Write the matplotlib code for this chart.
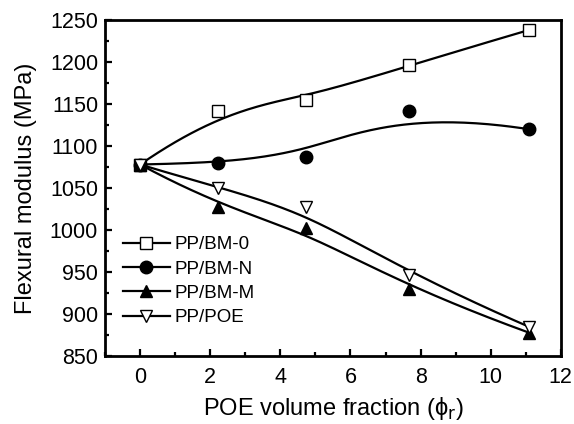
import matplotlib
matplotlib.use('Agg')
import matplotlib.pyplot as plt
import numpy as np
from matplotlib.ticker import MultipleLocator

plt.rcParams['font.family'] = ['Liberation Sans', 'DejaVu Sans']

phi = [0, 2.23, 4.74, 7.66, 11.09]
bm0 = [1078, 1142, 1155, 1196, 1238]
bmn = [1078, 1080, 1087, 1142, 1120]
bmm = [1078, 1028, 1003, 930, 878]
poe = [1078, 1050, 1027, 947, 885]


def bspline(xs, ys, n=200):
    # clamped cubic B-spline using the data as control points (Origin-style)
    pts = np.column_stack([xs, ys]).astype(float)
    k = 3
    m = len(pts)
    knots = np.concatenate([np.zeros(k), np.linspace(0, 1, m - k + 1), np.ones(k)])
    t = np.linspace(0, 1, n)
    t[-1] = 1 - 1e-9

    def basis(i, p, u):
        if p == 0:
            return ((knots[i] <= u) & (u < knots[i + 1])).astype(float)
        a = 0.0
        if knots[i + p] != knots[i]:
            a = (u - knots[i]) / (knots[i + p] - knots[i]) * basis(i, p - 1, u)
        b = 0.0
        if knots[i + p + 1] != knots[i + 1]:
            b = (knots[i + p + 1] - u) / (knots[i + p + 1] - knots[i + 1]) * basis(i + 1, p - 1, u)
        return a + b

    B = np.array([basis(i, k, t) for i in range(m)])
    out = B.T @ pts
    return out[:, 0], out[:, 1]


fig = plt.figure(figsize=(5.74, 4.24), dpi=100)
ax = fig.add_axes([0.183, 0.160, 0.794, 0.793])

series = [
    (bm0, 's', 'white', 'PP/BM-0'),
    (bmn, 'o', 'black', 'PP/BM-N'),
    (bmm, '^', 'black', 'PP/BM-M'),
    (poe, 'v', 'white', 'PP/POE'),
]
for ys, mk, fc, lab in series:
    cx, cy = bspline(phi, ys)
    ax.plot(cx, cy, color='black', lw=1.6, zorder=2)
    ax.plot(phi, ys, linestyle='none', marker=mk, ms=9, mfc=fc, mec='black', mew=1.0, zorder=3)
    ax.plot([], [], color='black', lw=1.6, marker=mk, ms=9, mfc=fc, mec='black', mew=1.0, label=lab)

ax.set_xlim(-1, 12)
ax.set_ylim(850, 1250)
ax.xaxis.set_major_locator(MultipleLocator(2))
ax.xaxis.set_minor_locator(MultipleLocator(1))
ax.yaxis.set_major_locator(MultipleLocator(50))
ax.yaxis.set_minor_locator(MultipleLocator(25))
ax.tick_params(which='both', direction='in', labelsize=15.5, width=1.6)
ax.tick_params(which='major', length=5)
ax.tick_params(which='minor', length=3)
ax.tick_params(axis='x', pad=8)
ax.tick_params(axis='y', pad=5)
for s in ax.spines.values():
    s.set_linewidth(2)

ax.set_xlabel('POE volume fraction (ϕ$_\\mathrm{r}$)', fontsize=17, labelpad=5)
ax.set_ylabel('Flexural modulus (MPa)', fontsize=17, labelpad=9)

ax.legend(loc='lower left', bbox_to_anchor=(0.01, 0.05), frameon=False, fontsize=13.5,
          handlelength=2.5, handletextpad=0.25, labelspacing=0.38, borderpad=0.2)

plt.savefig('out.png', dpi=100)
